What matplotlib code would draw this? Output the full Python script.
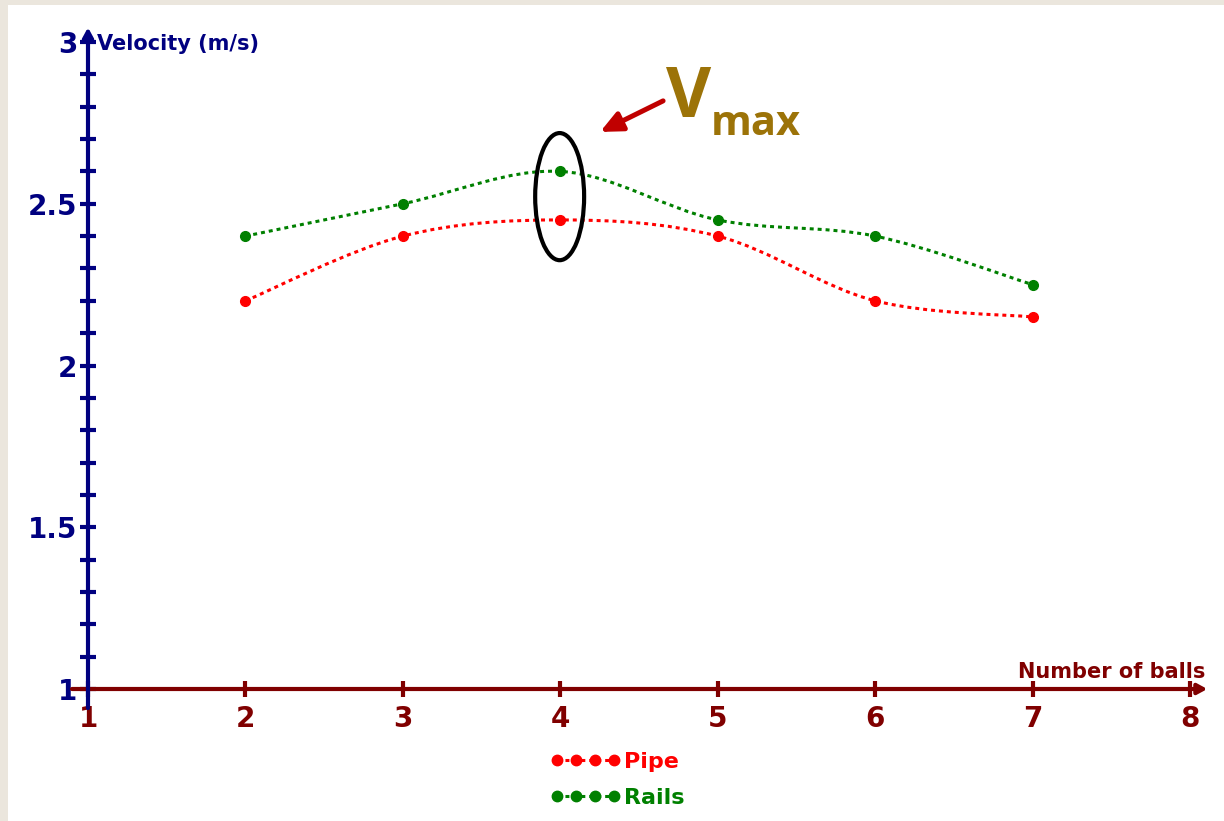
import numpy as np
import matplotlib.pyplot as plt
from matplotlib.path import Path
from matplotlib.patches import PathPatch, Ellipse, Rectangle
from matplotlib.lines import Line2D

# measured velocities for each number of balls
balls = [2, 3, 4, 5, 6, 7]
pipe = [2.2, 2.4, 2.45, 2.4, 2.2, 2.15]
rails = [2.4, 2.5, 2.6, 2.45, 2.4, 2.25]

x_ticks = [1, 2, 3, 4, 5, 6, 7, 8]
y_ticks = [1, 1.5, 2, 2.5, 3]
y_tick_labels = ['1', '1.5', '2', '2.5', '3']
series_names = ['Pipe', 'Rails']

NAVY = '#000080'
MAROON = '#800000'
RED = '#ff0000'
GREEN = '#008000'
GOLD = '#9c7308'
DOTS = (0, (1.3, 1.3))

W, H = 1224, 821


def smooth_path(xs, ys):
    # Catmull-Rom style bezier through the points (like a "smoothed line" chart)
    pts = np.column_stack([xs, ys]).astype(float)
    padded = np.vstack([pts[0], pts, pts[-1]])
    verts = [pts[0]]
    codes = [Path.MOVETO]
    for i in range(len(pts) - 1):
        p0, p1, p2, p3 = padded[i], padded[i + 1], padded[i + 2], padded[i + 3]
        verts += [p1 + (p2 - p0) / 6, p2 - (p3 - p1) / 6, p2]
        codes += [Path.CURVE4] * 3
    return Path(verts, codes)


fig = plt.figure(figsize=(W / 100, H / 100), dpi=100, facecolor='#ebe6dd')
fig.add_artist(Rectangle((8 / W, 0), 1, 1 - 5 / H, transform=fig.transFigure,
                         facecolor='white', edgecolor='none', zorder=0))

ax = fig.add_axes([88 / W, 132 / H, 1102 / W, 647 / H])
ax.set_xlim(1, 8)
ax.set_ylim(1, 3)
ax.patch.set_visible(False)
for s in ax.spines.values():
    s.set_visible(False)

ax.set_xticks(x_ticks)
ax.set_yticks(y_ticks, y_tick_labels)
ax.set_yticks(np.arange(1, 3.01, 0.1), minor=True)
ax.tick_params(axis='y', which='both', direction='inout', length=11, width=3,
               color=NAVY, labelcolor=NAVY, labelsize=20, pad=2)
ax.tick_params(axis='x', direction='inout', length=11.5, width=3,
               color=MAROON, labelcolor=MAROON, labelsize=20, pad=5.5)
for lbl in ax.get_xticklabels() + ax.get_yticklabels():
    lbl.set_fontweight('bold')

# axis lines with arrow heads
ax.annotate('', xy=(8.11, 1), xytext=(0.898, 1), annotation_clip=False,
            arrowprops=dict(arrowstyle='-|>,head_length=0.55,head_width=0.3',
                            lw=3, color=MAROON, shrinkA=0, shrinkB=0), zorder=3)
ax.annotate('', xy=(1, 3.045), xytext=(1, 0.941), annotation_clip=False,
            arrowprops=dict(arrowstyle='-|>,head_length=0.55,head_width=0.3',
                            lw=3, color=NAVY, shrinkA=0, shrinkB=0), zorder=4)

ax.text(1.057, 2.975, 'Velocity (m/s)', color=NAVY, fontsize=15,
        fontweight='bold', va='baseline', ha='left')
ax.text(8.095, 1.034, 'Number of balls', color=MAROON, fontsize=15,
        fontweight='bold', va='baseline', ha='right', clip_on=False)

# smoothed dotted curves and data points
for vals, col in [(pipe, RED), (rails, GREEN)]:
    ax.add_patch(PathPatch(smooth_path(balls, vals), fill=False, edgecolor=col,
                           lw=2.2, linestyle=DOTS, capstyle='butt', zorder=5))
    ax.plot(balls, vals, 'o', color=col, ms=7, zorder=6)

# highlight of the maximum
ax.add_patch(Ellipse((3.996, 2.522), 0.311, 0.393, fill=False,
                     edgecolor='black', lw=3, zorder=7))
ax.annotate('', xy=(4.253, 2.722), xytext=(4.653, 2.818),
            arrowprops=dict(arrowstyle='-|>,head_length=1.3,head_width=0.6',
                            lw=3.6, color='#c00000', shrinkA=0, shrinkB=0))
fig.text(666 / W, 1 - 117 / H, 'V', fontsize=50, fontweight='bold',
         family='Open Sans', color=GOLD, va='baseline', ha='left')
fig.text(711 / W, 1 - 135 / H, 'max', fontsize=30, fontweight='bold',
         family='Open Sans', color=GOLD, va='baseline', ha='left')

handles = [Line2D([], [], color=c, lw=2.2, ls=DOTS, marker='o', ms=7.5)
           for c in (RED, GREEN)]
fig.legend(handles, series_names, numpoints=4, frameon=False,
           loc='upper left', bbox_to_anchor=(550 / W, 1 - 752 / H),
           borderpad=0, borderaxespad=0, handlelength=3.2,
           handletextpad=0.15, labelspacing=0.7, labelcolor='linecolor',
           prop=dict(size=16, weight='bold'))

fig.savefig('out.png', dpi=100, facecolor=fig.get_facecolor())
